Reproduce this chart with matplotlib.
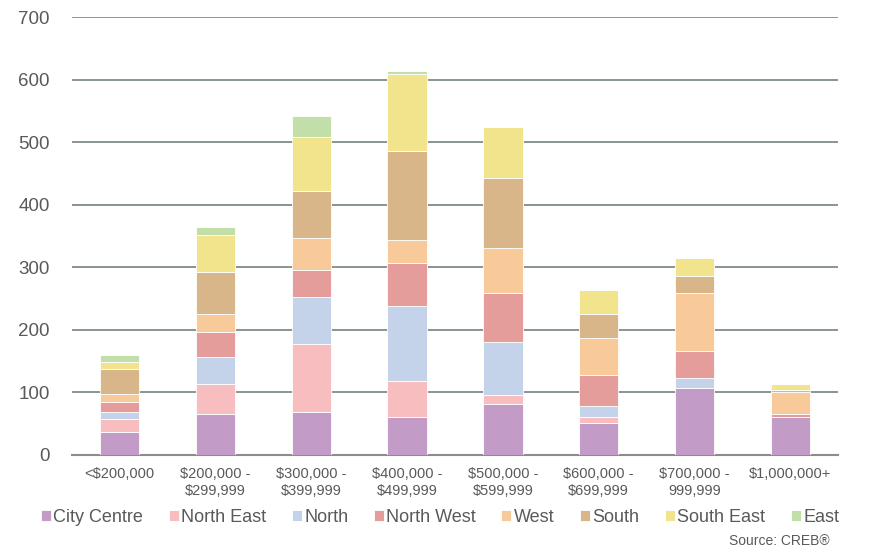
import matplotlib
matplotlib.use("Agg")
import matplotlib.pyplot as plt
import numpy as np

categories = ["<$200,000", "$200,000 -\n$299,999", "$300,000 -\n$399,999", "$400,000 -\n$499,999",
              "$500,000 -\n$599,999", "$600,000 -\n$699,999", "$700,000 -\n999,999", "$1,000,000+"]
series_names = ["City Centre", "North East", "North", "North West", "West", "South", "South East", "East"]
city_centre = [36, 65, 68, 61, 82, 51, 107, 60]
north_east = [22, 48, 110, 57, 14, 9, 0, 0]
north = [11, 44, 75, 120, 84, 18, 16, 0]
north_west = [16, 39, 43, 69, 79, 50, 43, 6]
west = [12, 30, 50, 37, 71, 59, 93, 34]
south = [40, 66, 76, 142, 113, 38, 27, 4]
south_east = [12, 59, 86, 123, 81, 39, 29, 10]
east = [11, 14, 34, 5, 0, 0, 0, 0]
colors = ["#C39BC7", "#F8BEBF", "#C4D3EA", "#E59D9B", "#F8CA9A", "#D9B68A", "#F2E48D", "#C3DFA9"]

data = [city_centre, north_east, north, north_west, west, south, south_east, east]

plt.rcParams['font.family'] = ['Liberation Sans', 'DejaVu Sans']
fig = plt.figure(figsize=(8.75, 5.52), dpi=100)
ax = fig.add_axes([0.082, 0.176, 0.876, 0.793])

x = np.arange(len(categories))
bottom = np.zeros(len(categories))
handles = []
for name, vals, c in zip(series_names, data, colors):
    b = ax.bar(x, vals, width=0.41, bottom=bottom, color=c, label=name,
               edgecolor="white", linewidth=0.6, zorder=3)
    handles.append(b)
    bottom += np.array(vals)

ax.set_ylim(0, 700)
ax.set_xlim(-0.5, len(categories) - 0.5)
ax.set_yticks(range(0, 701, 100))
ax.yaxis.grid(True, color="#6A7774", linewidth=1.1, zorder=0)
ax.set_axisbelow(True)
for s in ["top", "right", "left"]:
    ax.spines[s].set_visible(False)
ax.spines["bottom"].set_color("#8C8C8C")
ax.spines["bottom"].set_linewidth(1.5)
ax.tick_params(axis="both", length=0)
ax.tick_params(axis="y", labelsize=13.5, labelcolor="#595959", pad=16)
ax.set_xticks(x)
ax.set_xticklabels(categories, fontsize=10.5, color="#595959")
ax.tick_params(axis="x", pad=9)

leg = fig.legend(handles=handles, labels=series_names, loc="center", bbox_to_anchor=(0.503, 0.063),
                 ncol=8, frameon=False, fontsize=13, handlelength=0.55, handleheight=0.55,
                 handletextpad=0.15, columnspacing=1.4, labelcolor="#595959")
fig.text(0.948, 0.02, "Source: CREB®", ha="right", va="center", fontsize=10, color="#595959")

fig.savefig("out.png", dpi=100)
